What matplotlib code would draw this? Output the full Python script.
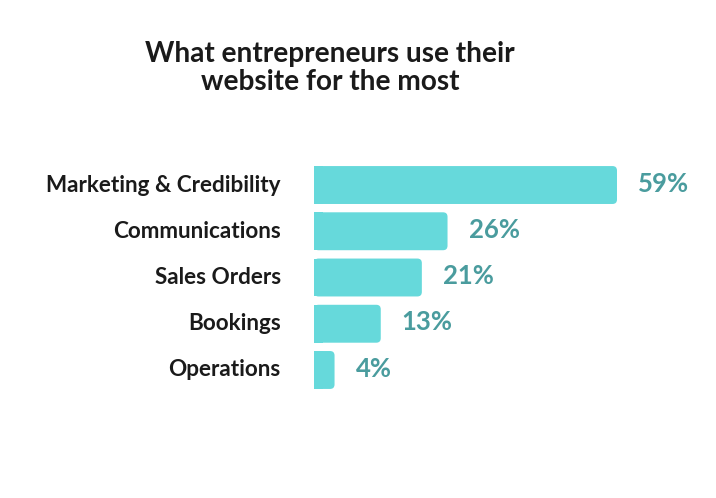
import matplotlib
matplotlib.use("Agg")
import matplotlib.pyplot as plt
from matplotlib.patches import FancyBboxPatch

categories = ["Marketing & Credibility", "Communications", "Sales Orders", "Bookings", "Operations"]
values = [59, 26, 21, 13, 4]
value_labels = ["59%", "26%", "21%", "13%", "4%"]
title = "What entrepreneurs use their\nwebsite for the most"

BAR_COLOR = "#66d9db"
VAL_COLOR = "#4a9c9e"
TEXT_COLOR = "#1a1a1a"
FONT = ["Lato", "DejaVu Sans"]

W, H = 716, 498
fig = plt.figure(figsize=(W / 100, H / 100), dpi=100)
ax_left, ax_right = 314 / W, 617 / W
ax_top, ax_bot = 1 - 161.9 / H, 1 - 393.1 / H
ax = fig.add_axes([ax_left, ax_bot, ax_right - ax_left, ax_top - ax_bot])
ax.set_xlim(0, 59)
ax.set_ylim(len(values) - 0.5, -0.5)

bars = ax.barh(range(len(values)), values, height=0.82, color=BAR_COLOR)
# px per data unit
px_x = (617 - 314) / 59
px_y = (393.1 - 161.9) / len(values)
r_px = 4.5
r = r_px / px_x
aspect = px_x / px_y
for b in bars:
    x0, y0 = b.get_x(), b.get_y()
    w, h = b.get_width(), b.get_height()
    b.set_visible(False)
    rr = min(r, w / 2)
    p = FancyBboxPatch((x0 + rr, y0 + rr * aspect), w - 2 * rr, h - 2 * rr * aspect,
                       boxstyle=f"round,pad={rr},rounding_size={rr}",
                       mutation_aspect=aspect, facecolor=BAR_COLOR, edgecolor="none")
    ax.add_patch(p)
    # square off the left side
    ax.add_patch(plt.Rectangle((x0, y0), min(w / 2, 2 * rr), h, facecolor=BAR_COLOR, edgecolor="none"))

for i, (v, lab) in enumerate(zip(values, value_labels)):
    ax.text(v + 21 / px_x, i - 0.03, lab, va="center", ha="left", fontsize=18.5,
            color=VAL_COLOR, family=FONT, fontweight="bold")

ax.set_yticks(range(len(categories)))
ax.set_yticklabels(categories, family=FONT, fontsize=16.2, fontweight="bold", color=TEXT_COLOR,
                   va="center")
for t in ax.get_yticklabels():
    t.set_y(t.get_position()[1])
ax.tick_params(axis="y", length=0, pad=24)
ax.set_xticks([])
for s in ax.spines.values():
    s.set_visible(False)

fig.text(0.5 * (147 + 513) / W, 1 - 68 / H, title, ha="center", va="center", fontsize=20.2,
         family=FONT, fontweight="bold", color=TEXT_COLOR, linespacing=1.08)

fig.savefig("out.png", dpi=100, facecolor="white")
